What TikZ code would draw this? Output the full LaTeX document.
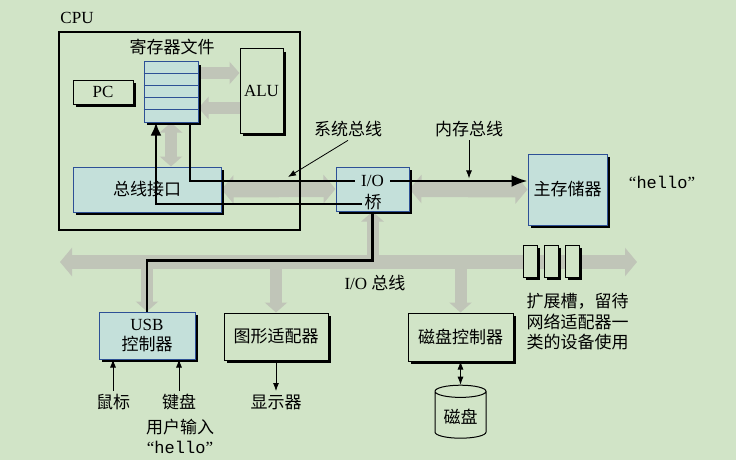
\documentclass[tikz,border=0pt]{standalone}
\usepackage{fontspec}
\setmainfont{Liberation Serif}
\setmonofont{Liberation Mono}
\newfontfamily\cjk{Noto Sans CJK SC}
\usetikzlibrary{arrows.meta,shapes.geometric,shadows}
\definecolor{bgpaper}{RGB}{209,228,199}
\definecolor{boxblue}{RGB}{196,224,218}
\definecolor{edgeblue}{RGB}{45,80,150}
\definecolor{busgray}{RGB}{192,197,184}
\pgfdeclarelayer{paper}
\pgfdeclarelayer{back}
\pgfsetlayers{paper,back,main}

\begin{document}
\begin{tikzpicture}[x=1pt, y=-1pt, font=\fontsize{17}{20}\selectfont,
    box/.style={draw, line width=1pt, fill=bgpaper, inner sep=0pt,
        drop shadow={shadow xshift=3pt, shadow yshift=-3pt, fill=black, opacity=1}},
    bluebox/.style={box, draw=edgeblue, fill=boxblue},
    wire/.style={line width=2.4pt},
    note/.style={line width=0.8pt, -{Latex[length=8pt,width=6pt]}},
    bus/.style={line width=16pt, draw=busgray, {Triangle[width=28pt,length=12pt]}-{Triangle[width=28pt,length=12pt]}},
    busone/.style={line width=12pt, draw=busgray, -{Triangle[width=22pt,length=10pt]}},
    bustwo/.style={line width=12pt, draw=busgray, {Triangle[width=22pt,length=10pt]}-{Triangle[width=22pt,length=10pt]}}]

    \begin{pgfonlayer}{paper}
        \fill[bgpaper] (0,0) rectangle (736,460);
    \end{pgfonlayer}
    \useasboundingbox (0,0) rectangle (736,460);

    % CPU
    \node[draw, line width=1.2pt, minimum width=241pt, minimum height=198pt] (cpu) at (179.5,131) {};
    \node (cpulabel) at (77,18) {CPU};
    \node[bluebox, minimum width=54pt, minimum height=60pt] (regs) at (171,92) {};
    \foreach \i in {1,...,4}
        \draw[edgeblue, line width=1pt] ([yshift={-\i*12pt}]regs.north west) -- ([yshift={-\i*12pt}]regs.north east);
    \node (regslabel) at (172,47) {\cjk 寄存器文件};
    \node[box, minimum width=60pt, minimum height=24pt] (pc) at (103,92) {PC};
    \node[box, minimum width=43pt, minimum height=84pt] (alu) at (261.5,91) {ALU};
    \node[bluebox, minimum width=148pt, minimum height=45pt] (busif) at (147,189.5) {\cjk 总线接口};

    % bridge and memory
    \node[bluebox, minimum width=73pt, minimum height=44pt] (iob) at (372.5,189) {};
    \node (iolabel) at (372.5,181) {I/O};
    \node (qiaolabel) at (373,202) {\cjk 桥};
    \node[bluebox, minimum width=79pt, minimum height=71pt] (mem) at (567.5,189.5) {\cjk 主存储器};
    \node (hello) at (662,182) {“\texttt{hello}”};
    \node (sysbus) at (348,129) {\cjk 系统总线};
    \node (membus) at (469,129) {\cjk 内存总线};

    % I/O devices
    \node[bluebox, minimum width=96pt, minimum height=47pt, align=center] (usb) at (147,335.5) {USB\\\cjk 控制器};
    \node[box, minimum width=104pt, minimum height=47pt] (gfx) at (276,336.5) {\cjk 图形适配器};
    \node[box, minimum width=105pt, minimum height=48pt] (diskctl) at (460.5,337) {\cjk 磁盘控制器};
    \node[cylinder, shape border rotate=90, aspect=0.3, draw, line width=1pt, fill=bgpaper,
        minimum width=51pt, minimum height=53pt] (disk) at (460.5,416.5) {\cjk\raisebox{-7pt}{磁盘}};
    \foreach \sx [count=\i] in {530,551,572}
        \node[box, minimum width=14pt, minimum height=32pt] (slot\i) at (\sx,261) {};
    \node[anchor=north west, align=left, font=\fontsize{17}{20.5}\selectfont\cjk] (slottext) at (523,290)
        {扩展槽，留待\\网络适配器一\\类的设备使用};
    \node (iobuslabel) at (375,283) {I/O {\cjk 总线}};
    \node (mouse) at (113,402) {\cjk 鼠标};
    \node (kbd) at (179,402) {\cjk 键盘};
    \node (disp) at (276,402) {\cjk 显示器};
    \node[align=center] (userin) at (180,436) {{\cjk 用户输入}\\“\texttt{hello}”};

    \coordinate (ioleft) at (60,262);
    \coordinate (ioright) at (637,262);
    \coordinate (qiao) at ([shift={(-11,15)}]iob.center);
    \coordinate (ioin) at ([shift={(-17.5,-8)}]iob.center);
    \coordinate (ioout) at ([shift={(17.5,-8)}]iob.center);
    \coordinate (systip) at (288,177);

    % buses
    \begin{pgfonlayer}{back}
        \draw[bus] (busif.east) -- (iob.west);
        \draw[bus] (iob.east) -- (mem.west);
        \draw[bus, line width=14pt] (ioleft) -- (ioright);
        \draw[busone] (iob.south |- ioleft) -- (iob.south);
        \draw[busone] (usb.north |- ioleft) -- (usb.north);
        \draw[busone] (gfx.north |- ioleft) -- (gfx.north);
        \draw[busone] (diskctl.north |- ioleft) -- (diskctl.north);
        \draw[busone] ([yshift=19pt]regs.east) -- ([yshift=19pt]regs.east -| alu.west);
        \draw[busone] ([yshift=-16pt]regs.east -| alu.west) -- ([yshift=-16pt]regs.east);
        \draw[bustwo] (regs.south) -- (regs.south |- busif.north);
    \end{pgfonlayer}

    % wires
    \draw[wire, -{Latex[length=13pt,width=11pt]}] (qiao) -| ([xshift=-15pt]regs.south);
    \draw[wire] ([xshift=19pt]regs.south) |- (ioin);
    \draw[wire, -{Latex[length=16pt,width=12pt]}] (ioout) -- (ioout -| mem.west);
    \draw[wire] (iob.south) -- ++(0,49) -| (usb.north);

    % labels with arrows
    \draw[note] (sysbus.south) -- (systip);
    \draw[note] (membus.south) -- ++(0,38);
    \draw[note] (mouse) -- (mouse |- usb.south);
    \draw[note] (kbd) -- (kbd |- usb.south);
    \draw[note] (gfx) -- (disp);
    \draw[note, {Latex[length=8pt,width=6pt]}-{Latex[length=8pt,width=6pt]}] (diskctl) -- (disk);
\end{tikzpicture}
\end{document}
